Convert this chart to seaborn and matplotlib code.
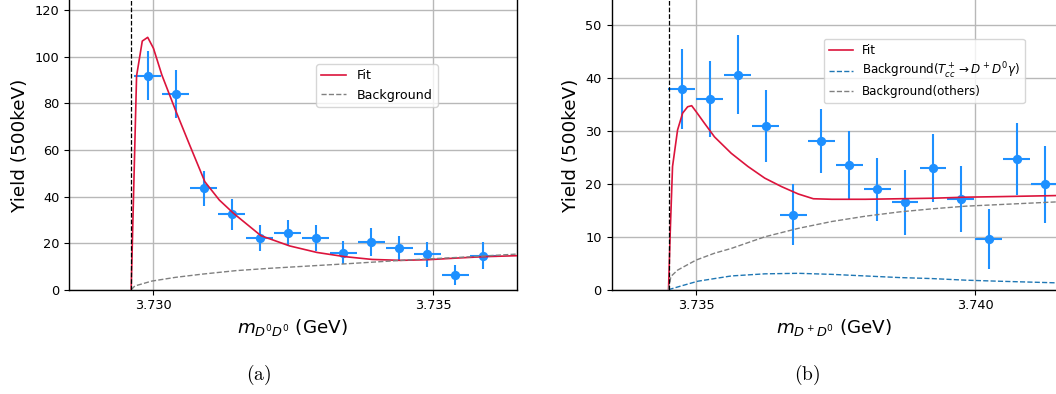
import numpy as np
import pandas as pd
import matplotlib
matplotlib.use("Agg")
import matplotlib.pyplot as plt
import seaborn as sns
from matplotlib.ticker import FormatStrFormatter, MultipleLocator

# ---------------- data: panel (a) D0 D0 ----------------
a_thr = 3.72960
a_x = [3.7299 + 0.0005 * k for k in range(13)]
a_y = [92, 84, 43.5, 32.4, 22.2, 24.4, 22.2, 15.9, 20.4, 17.8, 15.2, 6.3, 14.6]
a_err = [10.6, 10.2, 7.5, 6.7, 5.7, 5.7, 5.6, 5.0, 6.1, 5.3, 5.4, 4.3, 5.8]

a_fit_x = [3.729601, 3.729698, 3.729800, 3.729897, 3.730000, 3.730151, 3.730393,
           3.730635, 3.730919, 3.731179, 3.731433, 3.731923, 3.732437, 3.732926,
           3.733422, 3.733912, 3.734426, 3.734921, 3.735435, 3.735925, 3.736499]
a_fit_y = [0, 91.8, 106.8, 108.4, 103.7, 92.2, 77.2, 62.9, 46.4, 38.5, 32.8, 23.2,
           18.8, 16.0, 14.2, 13.0, 12.6, 12.9, 13.6, 14.2, 14.6]

a_bkg_x = [3.729601, 3.729667, 3.729970, 3.730393, 3.730877, 3.731481, 3.732086,
           3.733295, 3.734504, 3.735713, 3.736499]
a_bkg_y = [0, 1.6, 3.7, 5.3, 6.7, 8.2, 9.2, 10.9, 12.7, 14.2, 15.3]

# ---------------- data: panel (b) D+ D0 ----------------
b_thr = 3.734501
b_x = [3.73474 + 0.0005 * k for k in range(14)]
b_y = [37.9, 36.1, 40.7, 30.9, 14.2, 28.1, 23.6, 19.0, 16.5, 23.0, 17.2, 9.6, 24.8, 19.9]
b_err = [7.6, 7.2, 7.5, 6.8, 5.8, 6.1, 6.5, 6.0, 6.1, 6.4, 6.2, 5.7, 6.8, 7.2]

b_fit_x = [3.734501, 3.734531, 3.734573, 3.734663, 3.734754, 3.734844, 3.734916,
           3.734994, 3.735144, 3.735325, 3.735625, 3.735925, 3.736226, 3.736526,
           3.736827, 3.737097, 3.737428, 3.738029, 3.738630, 3.739231, 3.739832,
           3.740433, 3.741442]
b_fit_y = [0, 10.7, 23.3, 30.2, 33.4, 34.6, 34.8, 33.7, 31.5, 28.9, 25.8, 23.3, 21.1,
           19.5, 18.1, 17.2, 17.1, 17.1, 17.2, 17.3, 17.5, 17.6, 17.8]

b_oth_x = [3.734501, 3.734543, 3.734663, 3.734994, 3.735325, 3.735625, 3.736226,
           3.736827, 3.737428, 3.738029, 3.738630, 3.739231, 3.739832, 3.740433, 3.741442]
b_oth_y = [0, 2.5, 3.7, 5.6, 6.9, 7.8, 10.0, 11.6, 12.9, 13.9, 14.7, 15.3, 15.8, 16.1, 16.6]

b_tcc_x = [3.734501, 3.734724, 3.735024, 3.735625, 3.736226, 3.736827, 3.737428,
           3.738029, 3.738630, 3.739231, 3.739832, 3.740433, 3.741442]
b_tcc_y = [0, 0.7, 1.6, 2.6, 3.0, 3.1, 2.9, 2.6, 2.3, 2.1, 1.8, 1.6, 1.3]

xlabels = [r"$m_{D^0D^0}$ (GeV)", r"$m_{D^+D^0}$ (GeV)"]
captions = ["(a)", "(b)"]

# ---------------- styling ----------------
FIT_C = "crimson"
DATA_C = "dodgerblue"
GREY_C = "grey"
TCC_C = "#1f77b4"

plt.rcParams["font.family"] = ["DejaVu Sans"]

W, H = 1056, 394
fig = plt.figure(figsize=(W / 100, H / 100), dpi=100)

bottom = (H - 289.7) / H
height = 289.7 / H
axA = fig.add_axes([69 / W, bottom, (516.7 - 69) / W, height])
axB = fig.add_axes([611.5 / W, bottom, (W - 611.5) / W, height])


def draw_data(ax, x, y, err):
    ax.errorbar(x, y, yerr=err, xerr=0.00024, fmt="none", ecolor=DATA_C,
                elinewidth=1.5, capsize=0, zorder=3)
    sns.scatterplot(x=x, y=y, ax=ax, color=DATA_C, s=45, edgecolor=DATA_C,
                    linewidth=0, legend=False, zorder=4)


def style_axes(ax, xlim, ylim, ystep, xlabel):
    ax.set_xlim(*xlim)
    ax.set_ylim(*ylim)
    ax.xaxis.set_major_locator(MultipleLocator(0.005))
    ax.xaxis.set_major_formatter(FormatStrFormatter("%.3f"))
    ax.yaxis.set_major_locator(MultipleLocator(ystep))
    ax.grid(True, color="#b8b8b8", linewidth=1.0)
    ax.set_axisbelow(True)
    ax.tick_params(labelsize=9.3, length=3.5, width=0.8)
    ax.set_xlabel(xlabel, fontsize=13.2, labelpad=3.5)
    ax.set_ylabel("Yield (500keV)", fontsize=13.2, labelpad=4)
    ax.spines["top"].set_visible(False)
    for s in ax.spines.values():
        s.set_linewidth(1.0)


# ---- panel (a)
draw_data(axA, a_x, a_y, a_err)
sns.lineplot(x=a_fit_x, y=a_fit_y, ax=axA, color=FIT_C, lw=1.2, label="Fit",
             estimator=None, sort=False, zorder=5)
sns.lineplot(x=a_bkg_x, y=a_bkg_y, ax=axA, color=GREY_C, lw=1.0, ls="--",
             label="Background", estimator=None, sort=False, zorder=5)
axA.axvline(a_thr, color="black", ls="--", lw=0.9, zorder=6)
style_axes(axA, (3.728489, 3.736499), (0, 124.44), 20, xlabels[0])
axA.legend(loc="upper left", bbox_to_anchor=(0.552, 0.778), borderaxespad=0,
           fontsize=9.1, framealpha=0.8)

# ---- panel (b)
draw_data(axB, b_x, b_y, b_err)
sns.lineplot(x=b_fit_x, y=b_fit_y, ax=axB, color=FIT_C, lw=1.2, label="Fit",
             estimator=None, sort=False, zorder=5)
sns.lineplot(x=b_tcc_x, y=b_tcc_y, ax=axB, color=TCC_C, lw=1.0, ls="--",
             label=r"Background($T_{cc}^+\rightarrow D^+D^0\gamma$)",
             estimator=None, sort=False, zorder=5)
sns.lineplot(x=b_oth_x, y=b_oth_y, ax=axB, color=GREY_C, lw=1.0, ls="--",
             label="Background(others)", estimator=None, sort=False, zorder=5)
axB.axvline(b_thr, color="black", ls="--", lw=0.9, zorder=6)
style_axes(axB, (3.733479, 3.741446), (0, 54.79), 10, xlabels[1])
axB.spines["right"].set_visible(False)
axB.legend(loc="upper left", bbox_to_anchor=(0.478, 0.865), borderaxespad=0,
           fontsize=8.6, labelspacing=0.35, framealpha=0.8)

# ---- captions
for xc, cap in zip([259 / W, 807 / W], captions):
    fig.text(xc, 1 - 375 / H, r"$\mathrm{" + cap + "}$", ha="center", va="center",
             fontsize=14, math_fontfamily="cm")

fig.savefig("out.png", dpi=100)
